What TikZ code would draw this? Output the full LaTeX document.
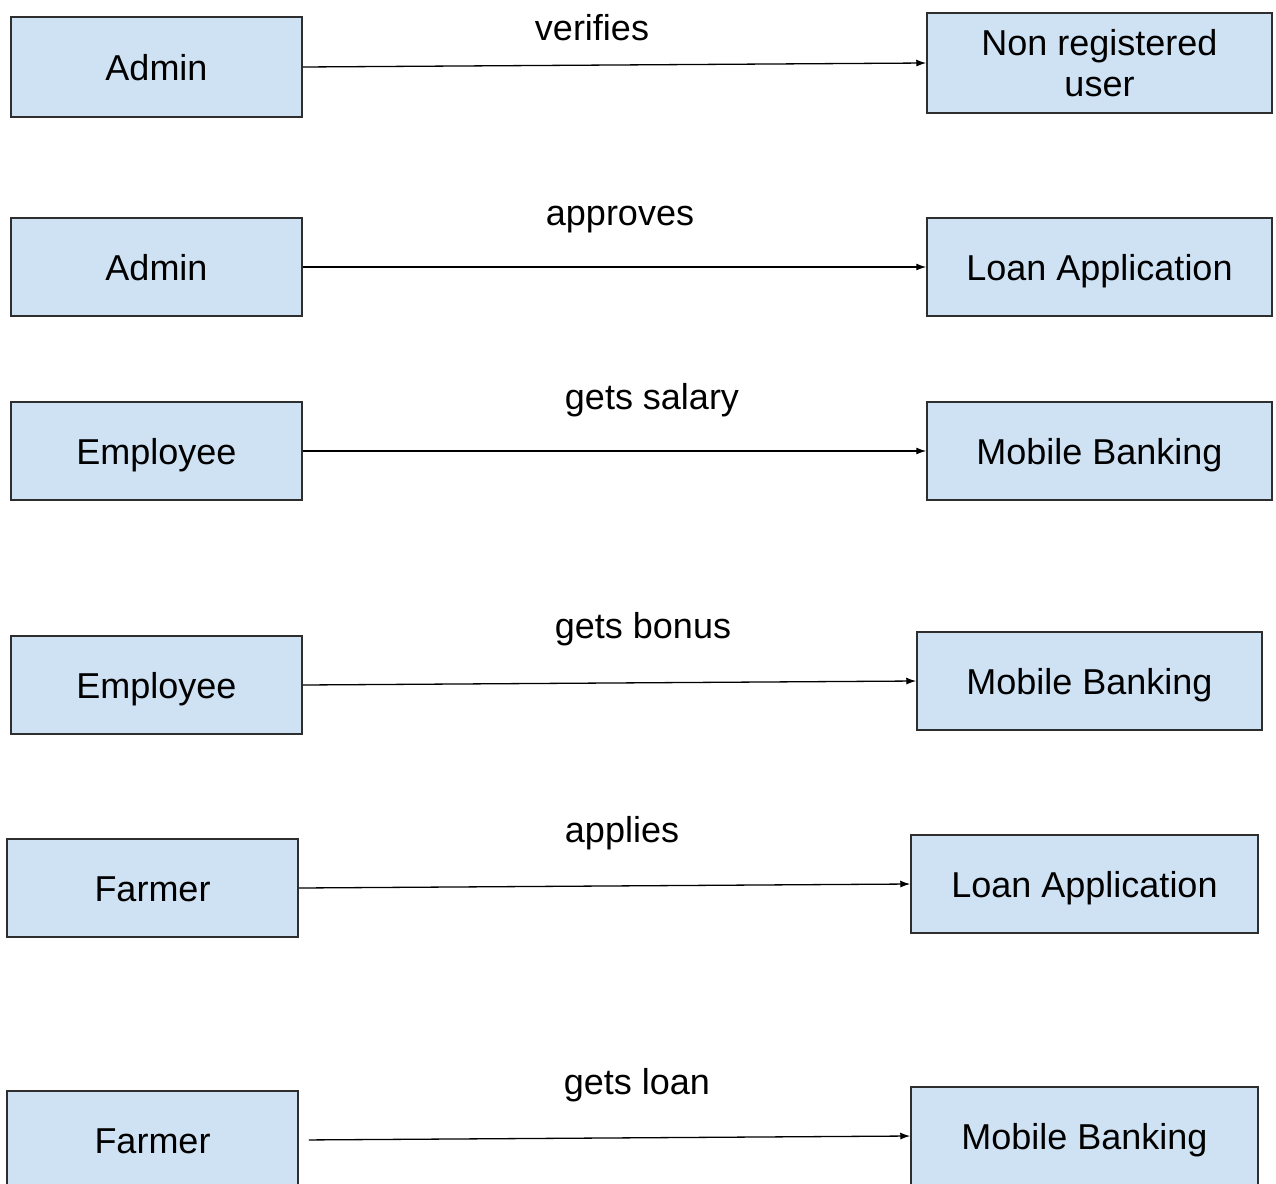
\documentclass[tikz,border=0pt]{standalone}
\usepackage{fontspec}
\setmainfont{Liberation Sans}
\usetikzlibrary{arrows.meta}
\definecolor{boxfill}{HTML}{CFE2F3}
\definecolor{boxline}{HTML}{2E2E2E}
\begin{document}
\begin{tikzpicture}[x=1pt,y=-1pt,
  every node/.style={font=\fontsize{36}{41}\selectfont},
  basebox/.style={draw=boxline, fill=boxfill, line width=1.5pt, inner sep=0pt,
    align=center, anchor=center},
  entity/.style={basebox, text height=26pt, text depth=0pt},
  rel/.style={draw=black, line width=1.3pt, -{Latex[length=10pt,width=7pt]}},
  lbl/.style={anchor=base, inner sep=0pt}]
\useasboundingbox (0,0) rectangle (1276,1183);
\clip (0,0) rectangle (1276,1183);
% row 1
\node[entity, minimum width=291pt, minimum height=100pt] (a1) at (156.5,67) {Admin};
\node[basebox, minimum width=345pt, minimum height=100pt] (b1) at (1099.5,63) {Non registered\\user};
\draw[rel] (a1.east) -- (b1.west);
\node[lbl] (l1) at (592,40) {verifies};
% row 2
\node[entity, minimum width=291pt, minimum height=98pt] (a2) at (156.5,267) {Admin};
\node[entity, minimum width=345pt, minimum height=98pt] (b2) at (1099.5,267) {Loan Application};
\draw[rel] (a2.east) -- (b2.west);
\node[lbl] (l2) at (620,225) {approves};
% row 3
\node[entity, minimum width=291pt, minimum height=98pt] (a3) at (156.5,451) {Employee};
\node[entity, minimum width=345pt, minimum height=98pt] (b3) at (1099.5,451) {Mobile Banking};
\draw[rel] (a3.east) -- (b3.west);
\node[lbl] (l3) at (652,409) {gets salary};
% row 4
\node[entity, minimum width=291pt, minimum height=98pt] (a4) at (156.5,685) {Employee};
\node[entity, minimum width=345pt, minimum height=98pt] (b4) at (1089.5,681) {Mobile Banking};
\draw[rel] (a4.east) -- (b4.west);
\node[lbl] (l4) at (643,638) {gets bonus};
% row 5
\node[entity, minimum width=291pt, minimum height=98pt] (a5) at (152.5,888) {Farmer};
\node[entity, minimum width=347pt, minimum height=98pt] (b5) at (1084.5,884) {Loan Application};
\draw[rel] (a5.east) -- (b5.west);
\node[lbl] (l5) at (622,842) {applies};
% row 6
\node[entity, minimum width=291pt, minimum height=98pt] (a6) at (152.5,1140) {Farmer};
\node[entity, minimum width=347pt, minimum height=98pt] (b6) at (1084.5,1136) {Mobile Banking};
\draw[rel, shorten <=10pt] (a6.east) -- (b6.west);
\node[lbl] (l6) at (637,1094) {gets loan};
\end{tikzpicture}
\end{document}
